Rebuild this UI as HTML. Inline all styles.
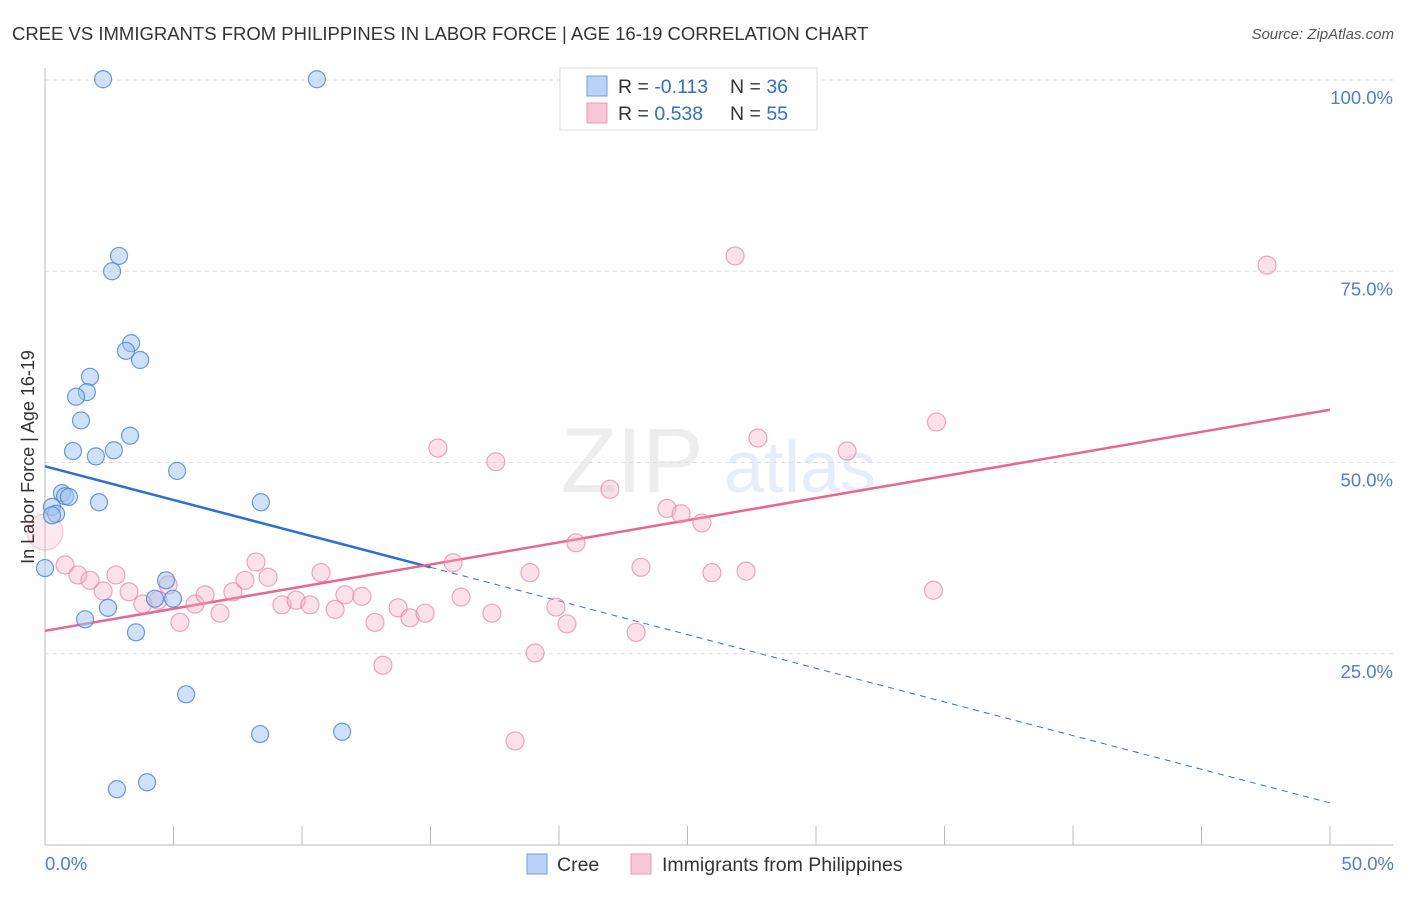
<!DOCTYPE html>
<html><head><meta charset="utf-8"><style>
body{margin:0;background:#fff;font-family:"Liberation Sans",sans-serif}
svg text{font-family:"Liberation Sans",sans-serif}
</style></head><body>
<svg id="chart" width="1406" height="892">
<text x="12" y="40" font-size="18.5" fill="#333">CREE VS IMMIGRANTS FROM PHILIPPINES IN LABOR FORCE | AGE 16-19 CORRELATION CHART</text>
<text x="1394" y="39" font-size="15" fill="#555" font-style="italic" text-anchor="end">Source: ZipAtlas.com</text>
<g opacity="0.35">
<text x="632" y="492" font-size="92" font-family="Liberation Serif" fill="#ccc" text-anchor="middle">ZIP</text>
<text x="800" y="492" font-size="72" fill="#b7cde8" text-anchor="middle">atlas</text>
</g>
<g id="grid"></g><g id="axes"></g><g id="trend"></g><g id="pts"></g>
<text transform="translate(34,457) rotate(-90)" font-size="18" fill="#333" text-anchor="middle">In Labor Force | Age 16-19</text>
<text x="45" y="870" font-size="18.5" fill="#4a7fd4">0.0%</text>
<text x="1394" y="870" font-size="18.5" fill="#4a7fd4" text-anchor="end">50.0%</text>
<g>
<rect x="560" y="68" width="257" height="62" fill="#fff" stroke="#ddd"/>
<rect x="587" y="76" width="20" height="20" fill="#b8d3f5" stroke="#6f9fdc"/>
<rect x="587" y="103" width="20" height="20" fill="#f9c6d6" stroke="#e89ab4"/>
<text x="618" y="93" font-size="19.5" fill="#333">R = <tspan fill="#2f6fd0">-0.113</tspan></text>
<text x="730" y="93" font-size="19.5" fill="#333">N = <tspan fill="#2f6fd0">36</tspan></text>
<text x="618" y="120" font-size="19.5" fill="#333">R = <tspan fill="#2f6fd0">0.538</tspan></text>
<text x="730" y="120" font-size="19.5" fill="#333">N = <tspan fill="#2f6fd0">55</tspan></text>
</g>
<g>
<rect x="527" y="854" width="20" height="20" fill="#b8d3f5" stroke="#6f9fdc"/>
<text x="557" y="871" font-size="19.5" fill="#333">Cree</text>
<rect x="631" y="854" width="20" height="20" fill="#f9c6d6" stroke="#e89ab4"/>
<text x="662" y="871" font-size="19.5" fill="#333">Immigrants from Philippines</text>
</g>
</svg>
<script>
const yTicks=[25,50,75,100];
const yTickLabels=["25.0%","50.0%","75.0%","100.0%"];
const xTicks=[0,5,10,15,20,25,30,35,40,45,50];
const creeX=[2.26,10.58,2.88,2.61,3.35,3.15,3.70,1.75,1.63,1.21,1.40,3.31,1.09,2.68,1.98,5.14,0.66,0.78,0.93,2.10,8.40,0.27,0.43,0.27,0,4.71,4.28,4.98,2.45,1.56,3.54,5.49,8.37,11.56,2.80,3.97];
const creeY=[100.1,100.1,77.0,75.0,65.6,64.6,63.4,61.2,59.2,58.6,55.5,53.5,51.5,51.6,50.8,48.9,46.0,45.6,45.5,44.8,44.8,44.2,43.3,43.1,36.2,34.6,32.2,32.2,31.0,29.5,27.8,19.7,14.5,14.8,7.3,8.2];
const phX=[0,0.78,1.28,1.75,2.76,2.26,3.27,3.81,4.40,4.79,5.25,5.84,6.23,6.81,7.31,7.78,8.21,8.68,9.22,9.77,10.31,10.74,11.29,11.67,12.33,12.84,13.15,13.74,14.20,14.79,15.29,15.88,16.19,17.39,17.54,18.29,18.87,19.07,19.88,20.31,20.66,21.98,23.00,23.19,24.20,24.75,25.56,25.95,27.28,27.74,26.85,31.21,34.57,34.69,47.55];
const phY=[40.9,36.6,35.3,34.6,35.3,33.2,33.1,31.5,32.0,34.0,29.1,31.5,32.7,30.3,33.1,34.6,37.0,35.0,31.4,32.0,31.4,35.6,30.8,32.7,32.5,29.1,23.5,31.0,29.7,30.3,51.9,36.9,32.4,30.3,50.1,13.6,35.6,25.1,31.1,28.9,39.5,46.5,27.8,36.3,44.0,43.3,42.1,35.6,35.8,53.2,77.0,51.5,33.3,55.3,75.8];
const creeTrend=[49.5,5.5];
const phTrend=[28.0,56.9];
const creeSolidEnd=15;
const X=v=>45+v/50*1285, Y=v=>845-v/100*765;
const NS="http://www.w3.org/2000/svg";
function mk(p,t,a){const e=document.createElementNS(NS,t);for(const k in a)e.setAttribute(k,a[k]);document.getElementById(p).appendChild(e);return e;}
yTicks.forEach((t,i)=>{
 const l=mk('grid','line',{x1:45,x2:1393,y1:Y(t),y2:Y(t),stroke:'#ddd','stroke-dasharray':'4,4'});
 
 
 const tx=mk('grid','text',{x:1393,y:Y(t)+24,'font-size':18.5,fill:'#4a7fd4','text-anchor':'end'});
 tx.textContent=yTickLabels[i];
 
 
});
const ax=mk('axes','line',{x1:45,x2:45,y1:68,y2:845,stroke:'#bbb'});


const bx=mk('axes','line',{x1:45,x2:1393,y1:845,y2:845,stroke:'#bbb'});


xTicks.forEach(t=>{const l=mk('axes','line',{x1:X(t),x2:X(t),y1:826,y2:845,stroke:'#bbb'});
 
 });
const cy=x=>creeTrend[0]+(creeTrend[1]-creeTrend[0])*x/50;
let t1=mk('trend','line',{x1:X(0),y1:Y(cy(0)),x2:X(creeSolidEnd),y2:Y(cy(creeSolidEnd)),stroke:'#2f6fd0','stroke-width':2.5});


let t2=mk('trend','line',{x1:X(creeSolidEnd),y1:Y(cy(creeSolidEnd)),x2:X(50),y2:Y(cy(50)),stroke:'#2f6fd0','stroke-width':1,'stroke-dasharray':'6,5'});


let t3=mk('trend','line',{x1:X(0),y1:Y(phTrend[0]),x2:X(50),y2:Y(phTrend[1]),stroke:'#e8668f','stroke-width':2.5});


phX.forEach((x,i)=>{const big=i===0;const c=mk('pts','circle',{cx:X(x),cy:Y(phY[i]),r:big?18:9,fill:big?'rgba(246,170,196,0.25)':'rgba(246,170,196,0.35)',stroke:big?'rgba(232,130,165,0.4)':'rgba(232,130,165,0.7)','stroke-width':1.2});
 
 });
creeX.forEach((x,i)=>{const c=mk('pts','circle',{cx:X(x),cy:Y(creeY[i]),r:8.5,fill:'rgba(160,196,240,0.5)',stroke:'rgba(70,130,215,0.8)','stroke-width':1.2});
 
 });
</script>
</body></html>
